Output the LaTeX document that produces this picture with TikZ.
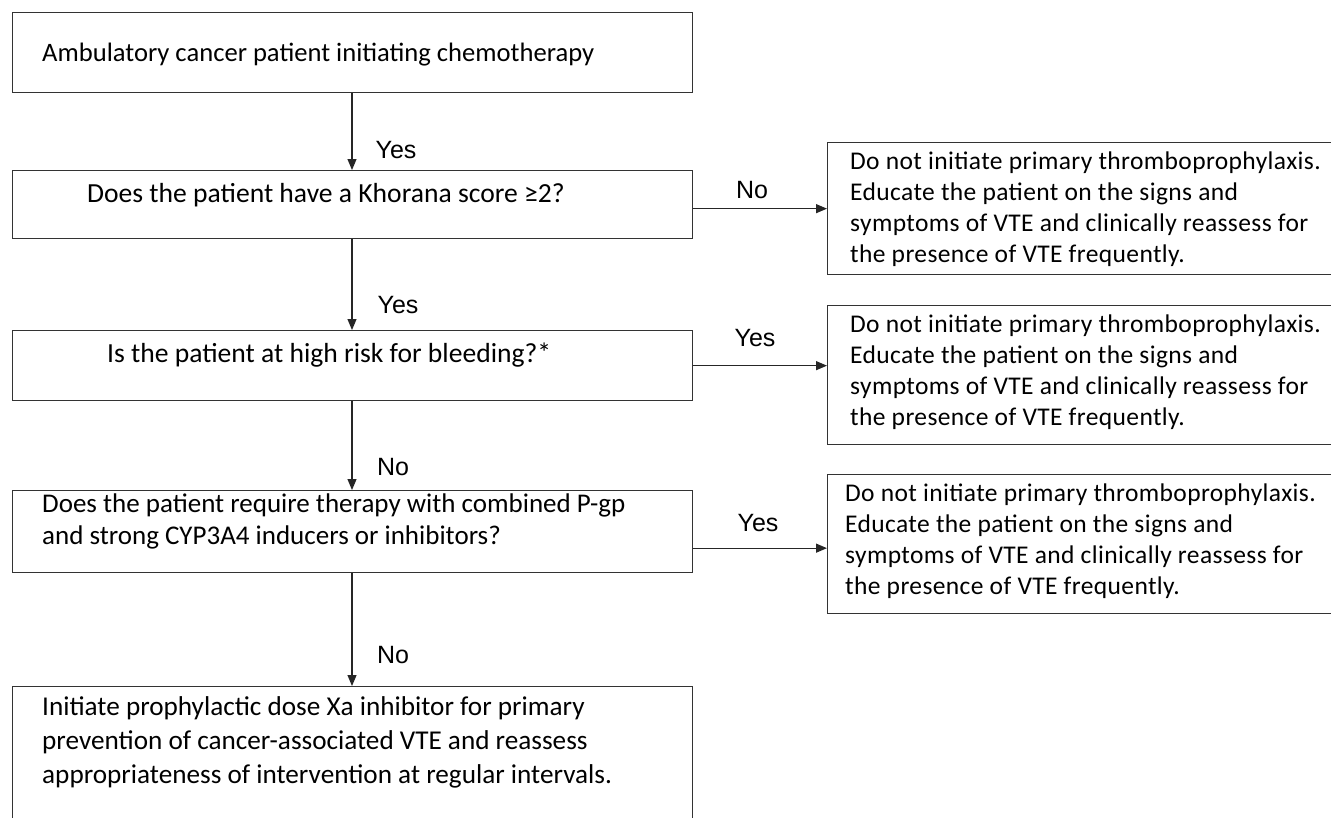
\documentclass[tikz,border=0pt]{standalone}
\usepackage{fontspec}
\setmainfont{Carlito}
\newfontfamily\lblfont{Liberation Sans}
\newfontfamily\widefont[LetterSpace=1.5]{Carlito}
\usetikzlibrary{arrows.meta}
\begin{document}
\begin{tikzpicture}[x=1pt,y=-1pt,
  box/.style={draw=black!80,line width=1.3pt,rectangle,anchor=north west,inner sep=0pt},
  txt/.style={anchor=west,align=left,inner sep=0pt,font=\fontsize{27.6}{32}\selectfont},
  ltxt/.style={anchor=north west,align=left,inner sep=0pt,font=\fontsize{27}{32}\selectfont},
  rtxt/.style={anchor=north west,align=left,inner sep=0pt,font=\widefont\fontsize{25.5}{31}\selectfont},
  lbl/.style={inner sep=0pt,font=\lblfont\fontsize{25}{28}\selectfont},
  arr/.style={draw=black!85,line width=1.2pt,-{Triangle[length=11pt,width=9pt]}}]
\useasboundingbox (0,0) rectangle (1331,817);
\clip (0,0) rectangle (1331,817);
% left column boxes
\node[box,minimum width=680pt,minimum height=80pt] (b1) at (12,12) {};
\node[box,minimum width=680pt,minimum height=68pt] (b2) at (12,170) {};
\node[box,minimum width=680pt,minimum height=70pt] (b3) at (12,330) {};
\node[box,minimum width=680pt,minimum height=82pt] (b4) at (12,490) {};
\node[box,minimum width=680pt,minimum height=150pt] (b5) at (12,686) {};
% right boxes
\node[box,minimum width=530pt,minimum height=132pt] (r1) at (827,142) {};
\node[box,minimum width=530pt,minimum height=139pt] (r2) at (827,305) {};
\node[box,minimum width=530pt,minimum height=139pt] (r3) at (827,474) {};
% texts
\node[txt,font=\fontsize{26.6}{32}\selectfont] (t1) at (42,55) {Ambulatory cancer patient initiating chemotherapy};
\node[txt] (t2) at (87,195) {Does the patient have a Khorana score ≥2?};
\node[txt] (t3) at (107,355) {Is the patient at high risk for bleeding?*};
\node[ltxt] (t4) at (42,494) {Does the patient require therapy with combined P-gp\\and strong CYP3A4 inducers or inhibitors?};
\node[ltxt,font=\fontsize{27.2}{34}\selectfont] (t5) at (42,696) {Initiate prophylactic dose Xa inhibitor for primary\\prevention of cancer-associated VTE and reassess\\appropriateness of intervention at regular intervals.};
\node[rtxt] (s1) at (850,152) {Do not initiate primary thromboprophylaxis.\\Educate the patient on the signs and\\symptoms of VTE and clinically reassess for\\the presence of VTE frequently.};
\node[rtxt] (s2) at (850,315) {Do not initiate primary thromboprophylaxis.\\Educate the patient on the signs and\\symptoms of VTE and clinically reassess for\\the presence of VTE frequently.};
\node[rtxt] (s3) at (845,484) {Do not initiate primary thromboprophylaxis.\\Educate the patient on the signs and\\symptoms of VTE and clinically reassess for\\the presence of VTE frequently.};
% connectors
\draw[arr] (b1.south -| 352,0) -- (b2.north -| 352,0);
\draw[arr] (b2.south -| 352,0) -- (b3.north -| 352,0);
\draw[arr] (b3.south -| 352,0) -- (b4.north -| 352,0);
\draw[arr] (b4.south -| 352,0) -- (b5.north -| 352,0);
\draw[arr] (r1.west -| b2.east) -- (r1.west);
\draw[arr] (b3.east) -- (b3.east -| r2.west);
\draw[arr] ([yshift=-4pt]r3.west -| b4.east) -- ([yshift=-4pt]r3.west);
% labels
\node[lbl] (y1) at (396,150) {Yes};
\node[lbl] (y2) at (398,305) {Yes};
\node[lbl] (n2) at (393,467) {No};
\node[lbl] (n3) at (393,655) {No};
\node[lbl] (n1) at (752,190) {No};
\node[lbl] (y3) at (755,338) {Yes};
\node[lbl] (y4) at (758,523) {Yes};
\end{tikzpicture}
\end{document}
